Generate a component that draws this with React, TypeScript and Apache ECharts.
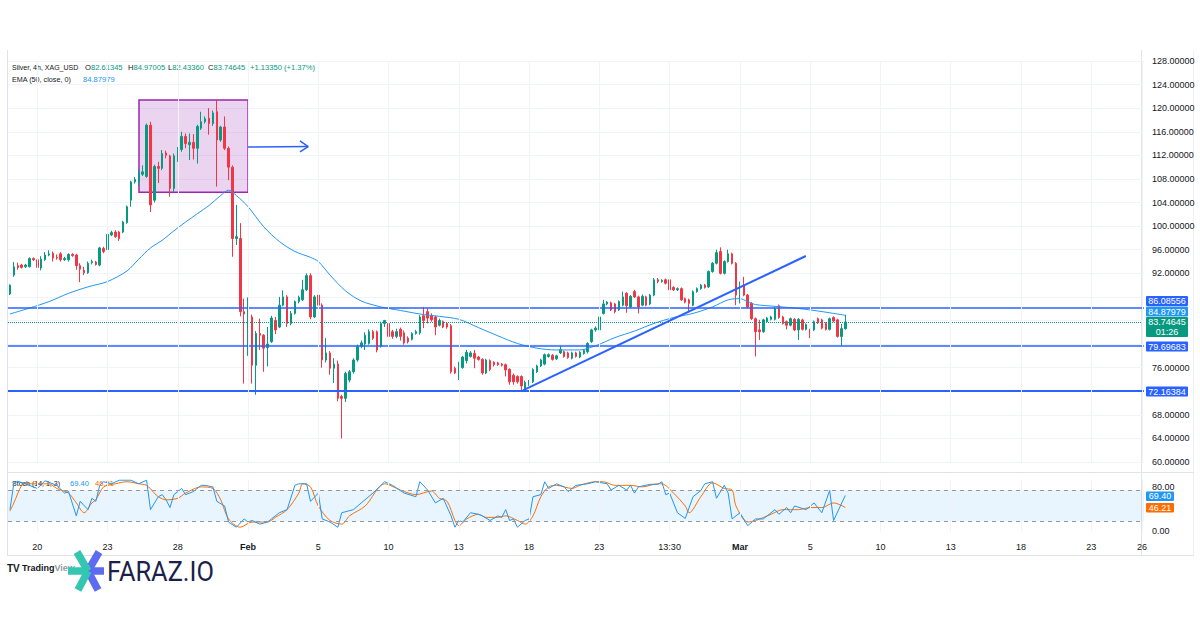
import { useEffect, useRef } from "react";
import * as echarts from "echarts";

// 4h bars, each row is [open, close, low, high]
const candles: number[][] = [
  [88.5, 90.0, 88.3, 90.1], [91.7, 93.1, 91.4, 93.9], [93.3, 93.0, 92.6, 93.8], [93.4, 93.0, 92.8, 93.6], [93.1, 93.4, 92.9, 93.6],
  [93.1, 94.5, 93.0, 94.7], [94.5, 94.3, 94.1, 94.7], [94.3, 93.0, 92.8, 94.4], [92.9, 94.4, 92.5, 94.9], [94.3, 95.1, 94.1, 95.6],
  [95.1, 95.3, 94.9, 95.9], [95.4, 94.6, 94.0, 95.7], [94.7, 94.6, 94.3, 95.2], [95.3, 94.3, 94.0, 95.6], [94.3, 94.5, 94.1, 94.8],
  [94.3, 95.2, 94.0, 95.4], [95.2, 95.0, 94.8, 95.4], [95.1, 93.3, 92.6, 95.3], [93.3, 92.7, 90.5, 93.7], [92.5, 92.1, 91.7, 93.1],
  [92.1, 93.7, 91.9, 94.0], [93.8, 94.0, 93.5, 94.3], [93.9, 93.5, 93.3, 94.1], [93.4, 96.3, 93.2, 96.5], [96.2, 95.7, 95.4, 96.5],
  [96.0, 98.6, 95.9, 98.8], [98.5, 98.9, 98.3, 99.2], [99.0, 98.2, 98.0, 99.3], [99.0, 97.9, 97.5, 99.2], [99.0, 100.7, 98.8, 100.9],
  [100.6, 103.3, 100.4, 103.5], [104.4, 107.5, 103.3, 107.7], [107.5, 107.9, 107.2, 108.3], [107.6, 109.0, 106.8, 109.6], [108.8, 109.2, 108.5, 110.3],
  [108.4, 117.1, 108.2, 117.4], [117.1, 103.6, 102.4, 117.7], [104.4, 110.1, 104.0, 110.4], [110.1, 109.8, 107.3, 110.9], [109.8, 112.3, 109.5, 112.9],
  [112.4, 112.0, 111.5, 112.8], [111.9, 106.4, 105.0, 112.1], [106.4, 111.9, 105.8, 112.3], [111.2, 113.0, 110.9, 113.4], [113.0, 115.2, 112.6, 116.0],
  [115.2, 114.0, 113.2, 115.7], [113.8, 114.2, 111.2, 115.7], [114.2, 113.2, 111.3, 115.6], [113.2, 116.9, 110.6, 117.2], [116.6, 117.7, 116.3, 119.4],
  [117.7, 118.2, 117.4, 118.6], [118.3, 117.4, 115.5, 120.0], [117.4, 119.2, 117.0, 119.6], [119.4, 114.6, 106.7, 121.4], [114.6, 116.8, 114.3, 117.0],
  [116.8, 113.2, 112.9, 118.6], [113.2, 110.0, 107.8, 113.5], [110.0, 97.9, 94.8, 110.3], [97.9, 98.2, 96.8, 103.6], [97.9, 85.5, 84.7, 100.5],
  [85.5, 85.1, 73.3, 87.7], [81.8, 84.6, 78.0, 87.9], [84.6, 76.4, 73.3, 85.0], [76.4, 81.8, 71.4, 82.2], [81.8, 81.5, 79.0, 84.3],
  [81.5, 79.3, 75.3, 81.7], [79.4, 80.0, 76.2, 82.9], [80.4, 84.4, 80.2, 84.8], [84.0, 82.4, 81.7, 84.6], [82.9, 86.6, 82.7, 88.0],
  [86.6, 88.0, 86.4, 89.1], [88.0, 83.5, 82.9, 88.3], [83.5, 85.2, 83.2, 85.6], [85.2, 87.2, 85.0, 87.4], [87.2, 87.9, 86.9, 88.2],
  [87.5, 89.2, 87.3, 90.9], [89.2, 91.6, 89.0, 92.0], [91.6, 84.6, 84.2, 92.0], [84.6, 88.0, 84.4, 88.3], [88.3, 86.6, 83.5, 90.3],
  [86.6, 77.3, 76.0, 86.9], [77.3, 78.5, 76.9, 81.0], [78.5, 75.9, 74.8, 78.8], [75.9, 76.6, 73.4, 77.6], [76.6, 70.8, 70.3, 77.2],
  [71.1, 70.8, 64.0, 71.4], [70.8, 75.0, 70.2, 75.3], [73.9, 75.3, 73.5, 75.6], [75.3, 77.3, 75.0, 77.6], [77.3, 79.6, 77.0, 79.9],
  [79.6, 80.2, 79.3, 80.6], [80.0, 81.5, 79.0, 82.0], [80.1, 82.1, 79.9, 82.5], [82.1, 81.0, 80.7, 82.4], [82.1, 79.0, 78.6, 82.3],
  [79.6, 83.5, 79.4, 83.8], [83.5, 84.0, 82.9, 84.1], [83.5, 81.3, 80.9, 83.9], [82.1, 81.3, 80.9, 82.4], [81.3, 82.1, 81.0, 82.6],
  [82.5, 81.3, 80.6, 82.8], [81.9, 80.2, 79.9, 82.3], [81.0, 80.4, 80.1, 81.3], [80.8, 81.8, 80.6, 82.0], [81.8, 82.1, 81.6, 82.4],
  [81.9, 84.6, 81.6, 84.9], [84.8, 84.0, 82.7, 86.3], [85.5, 84.4, 83.5, 86.0], [84.8, 84.1, 83.8, 85.2], [84.6, 82.9, 81.5, 84.8],
  [83.2, 84.0, 83.0, 84.3], [83.8, 82.9, 82.7, 84.0], [83.5, 82.9, 82.6, 83.7], [83.1, 75.3, 75.0, 83.4], [75.9, 75.1, 74.9, 76.2],
  [74.2, 76.8, 73.9, 77.0], [76.0, 77.8, 75.8, 78.0], [77.2, 78.6, 76.7, 79.0], [77.9, 78.5, 77.7, 78.8], [78.4, 77.6, 75.9, 79.0],
  [77.8, 77.4, 77.2, 78.0], [77.4, 75.1, 74.8, 77.6], [75.1, 77.3, 74.9, 77.5], [77.2, 75.7, 75.4, 77.4], [76.9, 76.5, 76.2, 77.1],
  [76.8, 76.5, 76.3, 77.0], [76.6, 76.4, 76.2, 76.8], [76.5, 75.6, 74.5, 76.7], [75.7, 73.6, 73.1, 75.9], [74.7, 73.6, 73.1, 75.0],
  [74.5, 73.6, 73.3, 74.7], [74.5, 72.9, 72.2, 74.7], [72.5, 73.5, 72.3, 73.8], [73.1, 73.7, 72.9, 73.9], [73.6, 75.7, 73.4, 75.9],
  [75.3, 76.3, 75.1, 76.5], [76.3, 77.3, 76.1, 77.5], [76.6, 78.2, 76.4, 78.4], [77.9, 78.2, 77.7, 78.4], [78.1, 77.4, 77.2, 78.3],
  [77.5, 78.0, 77.3, 78.2], [78.5, 79.1, 78.3, 79.7], [78.7, 77.9, 77.7, 78.9], [78.5, 77.7, 77.5, 78.7], [77.6, 78.5, 77.4, 78.7],
  [78.5, 77.9, 77.7, 78.7], [77.8, 78.6, 77.6, 78.8], [78.4, 78.9, 78.2, 79.1], [78.7, 80.1, 78.4, 80.3], [80.4, 82.4, 80.2, 82.6],
  [82.4, 82.7, 82.1, 83.0], [82.4, 84.6, 82.2, 84.8], [85.2, 86.8, 85.0, 87.5], [86.8, 87.1, 86.6, 87.3], [87.0, 85.8, 85.6, 87.2],
  [86.8, 85.5, 85.2, 87.0], [85.8, 87.2, 85.6, 87.4], [86.6, 88.0, 86.4, 88.9], [88.6, 86.5, 85.3, 88.8], [86.3, 88.1, 86.1, 88.3],
  [88.9, 88.0, 87.8, 89.2], [88.0, 86.3, 85.2, 88.2], [86.6, 88.1, 86.4, 88.4], [88.0, 86.6, 86.4, 88.2], [86.8, 88.3, 86.6, 88.5],
  [88.3, 90.9, 88.1, 91.2], [90.9, 90.6, 90.3, 91.2], [90.6, 90.8, 90.4, 91.0], [90.9, 90.3, 90.1, 91.1], [90.9, 89.2, 88.0, 91.1],
  [89.6, 89.2, 89.0, 89.8], [89.2, 89.4, 89.0, 89.6], [89.4, 87.5, 87.3, 89.6], [87.7, 87.1, 86.9, 87.9], [87.5, 86.9, 85.3, 87.7],
  [86.6, 88.9, 86.4, 89.1], [88.9, 89.4, 88.7, 89.6], [89.4, 90.0, 89.2, 90.2], [90.0, 89.6, 89.4, 90.2], [89.7, 92.3, 89.5, 92.5],
  [92.3, 93.7, 92.1, 93.9], [93.7, 95.5, 93.5, 96.0], [95.7, 92.0, 91.8, 96.4], [92.0, 94.0, 91.8, 94.2], [94.0, 95.3, 93.8, 96.0],
  [95.3, 93.7, 93.5, 95.5], [93.7, 88.3, 86.6, 93.9], [88.6, 89.7, 86.9, 90.6], [90.0, 88.3, 88.1, 91.4], [88.3, 86.3, 86.1, 88.5],
  [86.9, 84.3, 84.1, 87.1], [84.3, 82.1, 77.9, 84.5], [82.4, 82.1, 80.7, 84.1], [82.1, 84.1, 81.9, 84.3], [83.8, 84.4, 83.6, 84.6],
  [84.2, 84.6, 84.0, 84.8], [84.2, 86.0, 84.0, 86.3], [86.5, 84.5, 84.3, 86.7], [84.6, 83.5, 83.3, 84.8], [83.8, 83.2, 82.5, 84.0],
  [83.2, 84.3, 83.0, 84.5], [84.2, 82.4, 82.2, 84.4], [82.4, 84.2, 80.7, 84.4], [84.1, 82.5, 82.3, 84.3], [82.5, 83.3, 82.3, 83.5],
  [82.4, 81.4, 81.0, 82.6], [82.4, 83.8, 82.2, 84.0], [84.3, 83.6, 83.4, 84.5], [84.1, 82.7, 82.5, 84.3], [83.5, 82.5, 82.3, 83.7],
  [82.5, 84.3, 82.3, 84.5], [84.5, 83.9, 83.7, 84.7], [84.1, 81.3, 81.1, 84.3], [81.3, 82.61295, 79.7, 83.4], [82.61345, 83.74645, 82.4336, 84.97005],
];

// time axis: slot count (bars + empty space on the right) and tick labels
const slotCount = 291;
const timeTickIdx = [7, 25, 43, 61, 79, 97, 115, 133, 151, 169, 187, 205, 223, 241, 259, 277, 290];
const timeTickLabels = ["20", "23", "28", "Feb", "5", "10", "13", "18", "23", "13:30", "Mar", "5", "10", "13", "18", "23", "26"];
const boldTickLabels = ["Feb", "Mar"];

// price scale
const priceMin = 60;
const priceMax = 128;
const priceStep = 4;
const hiddenPriceTicks = [72, 80, 84, 88];

// horizontal levels
const levelPrices = [86.08556, 79.69683, 72.16384];

// EMA(50) samples: bar index and value
const emaIdx = [0, 5, 10, 15, 20, 25, 30, 33, 36, 39, 42, 45, 48, 51, 54, 56, 58, 61, 65, 69, 73, 77, 79, 82, 86, 90, 95, 100, 105, 110, 115, 120, 125, 130, 135, 140, 146, 150, 155, 160, 165, 170, 175, 180, 184, 187, 189, 191, 196, 201, 206, 211, 214];
const emaVal = [85.1, 86.1, 87.2, 88.6, 89.7, 90.6, 92.4, 94.4, 96.3, 97.6, 99.2, 100.7, 102.1, 103.5, 105.2, 106.1, 105.2, 103.3, 99.9, 97.4, 95.7, 94.7, 94.0, 91.7, 89.0, 87.3, 86.3, 85.7, 85.1, 84.7, 84.2, 82.8, 81.4, 80.1, 79.3, 79.0, 79.0, 79.7, 81.1, 82.2, 83.5, 84.5, 85.2, 86.3, 87.5, 87.7, 87.2, 86.7, 86.4, 86.1, 85.7, 85.2, 84.87979];

// Stochastic (14, 1, 3): %K and %D samples
const kIdx = [0, 1, 2, 4, 7, 9, 12, 14, 15, 17, 18, 20, 21, 22, 23, 24, 26, 28, 31, 33, 35, 36, 38, 39, 40, 41, 42, 43, 44, 45, 47, 49, 50, 52, 53, 55, 56, 58, 60, 61, 62, 64, 66, 67, 69, 71, 73, 74, 76, 77, 79, 80, 82, 84, 85, 88, 90, 93, 96, 98, 101, 104, 105, 107, 109, 111, 113, 114, 115, 116, 118, 120, 121, 123, 125, 126, 127, 128, 129, 130, 132, 133, 134, 136, 137, 138, 140, 142, 143, 145, 148, 150, 153, 154, 156, 158, 159, 160, 161, 164, 166, 167, 168, 169, 171, 173, 175, 177, 178, 180, 181, 183, 184, 185, 187, 189, 191, 193, 196, 197, 199, 200, 201, 204, 206, 208, 210, 211, 214];
const kVal = [42, 93, 97, 92, 83, 98, 89, 74, 77, 30, 58, 42, 64, 58, 89, 96, 92, 99, 99, 92, 99, 42, 67, 71, 61, 46, 71, 77, 83, 71, 77, 89, 89, 86, 58, 49, 18, 8, 24, 18, 21, 14, 18, 24, 36, 42, 89, 92, 92, 58, 74, 24, 18, 8, 36, 42, 55, 74, 96, 89, 74, 67, 96, 80, 55, 64, 30, 8, 21, 18, 36, 33, 30, 21, 30, 27, 42, 21, 24, 8, 21, 24, 67, 71, 96, 83, 92, 86, 77, 89, 92, 96, 92, 80, 89, 80, 89, 74, 86, 91, 91, 96, 71, 74, 36, 25, 67, 79, 92, 96, 64, 89, 74, 24, 36, 11, 24, 24, 42, 33, 46, 36, 49, 42, 55, 36, 79, 21, 69.4];
const dIdx = [0, 1, 3, 4, 10, 12, 15, 17, 19, 21, 22, 24, 27, 30, 33, 35, 37, 38, 40, 43, 45, 49, 52, 54, 56, 59, 62, 66, 68, 71, 74, 75, 77, 79, 82, 85, 87, 91, 96, 100, 104, 108, 110, 112, 114, 115, 117, 120, 122, 125, 127, 130, 132, 134, 136, 138, 140, 144, 146, 150, 152, 155, 159, 162, 166, 167, 170, 173, 174, 177, 180, 183, 185, 186, 189, 191, 195, 198, 202, 205, 208, 211, 214];
const dVal = [39, 55, 89, 92, 92, 83, 74, 55, 36, 55, 61, 86, 92, 96, 92, 89, 74, 67, 61, 64, 74, 86, 83, 61, 24, 8, 18, 18, 27, 42, 74, 92, 86, 49, 21, 14, 30, 49, 92, 80, 71, 78, 64, 58, 21, 11, 24, 33, 27, 27, 30, 21, 14, 30, 67, 86, 89, 83, 89, 96, 96, 89, 89, 86, 92, 92, 74, 49, 36, 67, 94, 83, 80, 49, 18, 21, 33, 42, 42, 46, 46, 55, 46.21];
const stochBand = [20, 80];

// drawings: trend line, highlighted zone, arrow
const trendIdx = [131.4, 203.9];
const trendPrice = [72.16, 94.93];
const zoneIdx = [33.06, 61.0];
const zonePrice = [105.73, 121.39];
const arrowIdx = [61.0, 76.4];
const arrowPrice = [113.42, 113.5];
const arrowHeadIdx = [74.3, 76.4, 74.3];
const arrowHeadPrice = [114.45, 113.5, 112.6];

const countdown = "01:26";

const FONT = '"Liberation Sans", Arial, sans-serif';
const TEXT = "#131722";
const UP = "#089981";
const DOWN = "#f23645";
const LINE_BLUE = "#2962ff";
const EMA_BLUE = "#2196f3";
const ORANGE = "#ff6d00";
const GRIDLINE = "#f0f3fa";
const BORDER = "#e0e3eb";

const GRID_LEFT = 8;
const SLOT_W = 3.9034;
const GRID_W = slotCount * SLOT_W;

const pairs = (xs: number[], ys: number[]) => xs.map((x, j) => [x, ys[j]]);

function text(x: number, y: number, s: string, fill: string, size = 8, extra: Record<string, unknown> = {}, scaleX = 1) {
  return {
    type: "text",
    x,
    y,
    scaleX,
    silent: true,
    style: { text: s, fill, font: `${size}px ${FONT}`, verticalAlign: "middle", textVerticalAlign: "middle", ...extra },
  };
}

function richPair(x: number, y: number, key: string, value: string) {
  return {
    type: "text",
    x,
    y,
    scaleX: 0.95,
    silent: true,
    style: {
      text: `{k|${key}}{v|${value}}`,
      verticalAlign: "middle",
      textVerticalAlign: "middle",
      rich: {
        k: { fill: TEXT, fontSize: 8, fontFamily: FONT },
        v: { fill: UP, fontSize: 8, fontFamily: FONT },
      },
    },
  };
}

function tag(x: number, y: number, w: number, h: number, fill: string, s: string) {
  return {
    type: "group",
    silent: true,
    children: [
      { type: "rect", shape: { x, y, width: w, height: h, r: 1 }, style: { fill } },
      {
        type: "text",
        x: x + w / 2,
        y: y + h / 2,
        style: {
          text: s,
          fill: "#ffffff",
          font: `9px ${FONT}`,
          align: "center",
          textAlign: "center",
          verticalAlign: "middle",
          textVerticalAlign: "middle",
          lineHeight: 10,
        },
      },
    ],
  };
}

function hline(x1: number, x2: number, y: number, stroke: string) {
  return { type: "line", silent: true, shape: { x1, y1: y, x2, y2: y }, style: { stroke, lineWidth: 1 } };
}
function vline(x: number, y1: number, y2: number, stroke: string) {
  return { type: "line", silent: true, shape: { x1: x, y1, x2: x, y2 }, style: { stroke, lineWidth: 1 } };
}
function arm(x2: number, y2: number, stroke: string) {
  return { type: "line", silent: true, shape: { x1: 88, y1: 571, x2, y2 }, style: { stroke, lineWidth: 7.5 } };
}

export default function App() {
  const ref = useRef<HTMLDivElement>(null);

  useEffect(() => {
    if (!ref.current) return;
    const chart = echarts.init(ref.current, null, { renderer: "svg" });

    const categories = Array.from({ length: slotCount }, (_, i) => {
      const j = timeTickIdx.indexOf(i);
      return j >= 0 ? timeTickLabels[j] : "";
    });

    const last = candles[candles.length - 1];
    const prevClose = candles[candles.length - 2][1];
    const change = last[1] - prevClose;
    const changePct = (change / prevClose) * 100;
    const emaLast = emaVal[emaVal.length - 1];
    const kLast = kVal[kVal.length - 1];
    const dLast = dVal[dVal.length - 1];

    const mainVGrid = timeTickIdx.map((i) => ({ xAxis: i }));
    const noMarker = { symbol: ["none", "none"], silent: true, label: { show: false }, emphasis: { disabled: true } };

    const option = {
      animation: false,
      backgroundColor: "#ffffff",
      textStyle: { fontFamily: FONT },
      grid: [
        { left: GRID_LEFT, top: 61, width: GRID_W, height: 401 },
        { left: GRID_LEFT, top: 479.67, width: GRID_W, height: 51.67 },
      ],
      xAxis: [
        {
          type: "category",
          gridIndex: 0,
          data: categories,
          boundaryGap: true,
          axisLine: { show: false },
          axisTick: { show: false },
          axisLabel: { show: false },
          splitLine: { show: false },
        },
        { type: "value", gridIndex: 0, min: -0.5, max: slotCount - 0.5, show: false },
        {
          type: "category",
          gridIndex: 1,
          data: categories,
          boundaryGap: true,
          axisLine: { show: false },
          axisTick: { show: false },
          splitLine: { show: false },
          axisLabel: {
            interval: (idx: number) => timeTickIdx.includes(idx),
            formatter: (v: string) => (boldTickLabels.includes(v) ? `{b|${v}}` : v),
            color: TEXT,
            fontSize: 9,
            fontFamily: FONT,
            margin: 11,
            rich: { b: { fontWeight: "bold", fontSize: 9, color: TEXT, fontFamily: FONT } },
          },
        },
        { type: "value", gridIndex: 1, min: -0.5, max: slotCount - 0.5, show: false },
      ],
      yAxis: [
        {
          type: "value",
          gridIndex: 0,
          position: "right",
          min: priceMin,
          max: priceMax,
          interval: priceStep,
          axisLine: { show: false },
          axisTick: { show: false },
          splitLine: { show: true, lineStyle: { color: GRIDLINE, width: 1 } },
          axisLabel: {
            margin: 8,
            color: TEXT,
            fontSize: 9,
            fontFamily: FONT,
            formatter: (v: number) => (hiddenPriceTicks.includes(v) ? "" : v.toFixed(5)),
          },
        },
        {
          type: "value",
          gridIndex: 1,
          position: "right",
          min: 0,
          max: 100,
          interval: 20,
          axisLine: { show: false },
          axisTick: { show: false },
          splitLine: { show: false },
          axisLabel: {
            margin: 8,
            color: TEXT,
            fontSize: 9,
            fontFamily: FONT,
            formatter: (v: number) => (v === 80 ? `{hi|${v.toFixed(2)}}` : v === 0 ? v.toFixed(2) : ""),
            rich: { hi: { fontSize: 9, color: TEXT, fontFamily: FONT, padding: [0, 0, 7, 0] } },
          },
        },
      ],
      series: [
        {
          // highlighted zone behind the bars
          type: "line",
          xAxisIndex: 1,
          yAxisIndex: 0,
          z: 1,
          data: [[zoneIdx[0], zonePrice[0]]],
          showSymbol: false,
          lineStyle: { opacity: 0 },
          silent: true,
          markArea: {
            silent: true,
            itemStyle: { color: "rgba(156,39,176,0.2)", borderColor: "#9c27b0", borderWidth: 1.5 },
            data: [[{ coord: [zoneIdx[0], zonePrice[1]] }, { coord: [zoneIdx[1], zonePrice[0]] }]],
          },
        },
        {
          type: "candlestick",
          xAxisIndex: 0,
          yAxisIndex: 0,
          z: 3,
          barWidth: 2,
          data: candles,
          itemStyle: { color: UP, color0: DOWN, borderColor: UP, borderColor0: DOWN, borderWidth: 1 },
          markLine: {
            ...noMarker,
            data: [
              ...levelPrices.map((p, j) => ({ yAxis: p, lineStyle: { color: LINE_BLUE, width: j === 2 ? 2.2 : 1.6, type: "solid" } })),
              { yAxis: last[1], lineStyle: { color: UP, width: 1, type: "dotted" } },
            ],
          },
        },
        {
          type: "line",
          name: "EMA",
          xAxisIndex: 1,
          yAxisIndex: 0,
          z: 4,
          data: pairs(emaIdx, emaVal),
          smooth: 0.3,
          showSymbol: false,
          silent: true,
          lineStyle: { color: EMA_BLUE, width: 1 },
          markLine: { ...noMarker, data: mainVGrid, lineStyle: { color: GRIDLINE, width: 1, type: "solid" } },
        },
        {
          type: "line",
          xAxisIndex: 1,
          yAxisIndex: 0,
          z: 5,
          data: pairs(trendIdx, trendPrice),
          showSymbol: false,
          silent: true,
          lineStyle: { color: LINE_BLUE, width: 2 },
        },
        {
          type: "line",
          xAxisIndex: 1,
          yAxisIndex: 0,
          z: 5,
          data: pairs(arrowIdx, arrowPrice),
          showSymbol: false,
          silent: true,
          lineStyle: { color: LINE_BLUE, width: 1.5 },
        },
        {
          type: "line",
          xAxisIndex: 1,
          yAxisIndex: 0,
          z: 5,
          data: pairs(arrowHeadIdx, arrowHeadPrice),
          showSymbol: false,
          silent: true,
          lineStyle: { color: LINE_BLUE, width: 1.5 },
        },
        {
          type: "line",
          name: "%D",
          xAxisIndex: 3,
          yAxisIndex: 1,
          z: 3,
          data: pairs(dIdx, dVal),
          smooth: 0.3,
          showSymbol: false,
          silent: true,
          lineStyle: { color: ORANGE, width: 1 },
          markArea: {
            silent: true,
            itemStyle: { color: "rgba(33,150,243,0.1)" },
            data: [[{ yAxis: stochBand[1] }, { yAxis: stochBand[0] }]],
          },
        },
        {
          type: "line",
          name: "%K",
          xAxisIndex: 3,
          yAxisIndex: 1,
          z: 4,
          data: pairs(kIdx, kVal),
          showSymbol: false,
          silent: true,
          lineStyle: { color: EMA_BLUE, width: 1 },
          markLine: {
            ...noMarker,
            data: [
              ...timeTickIdx.map((i) => ({ xAxis: i, lineStyle: { color: GRIDLINE, width: 1, type: "solid" } })),
              ...stochBand.map((v) => ({ yAxis: v, lineStyle: { color: "#9598a1", width: 1, type: [4, 4] } })),
            ],
          },
        },
      ],
      graphic: {
        elements: [
          // pane borders
          vline(7.5, 50, 555, BORDER),
          vline(1141.5, 50, 555, BORDER),
          vline(1193.5, 50, 555, "#eef0f3"),
          hline(7, 1194, 472.5, BORDER),
          hline(7, 1194, 555.5, BORDER),

          // legend rows
          text(12, 67, "Silver, 4h, XAG_USD", TEXT, 8, {}, 0.88),
          richPair(85, 67, "O", last[0].toFixed(5)),
          richPair(128, 67, "H", last[3].toFixed(5)),
          richPair(168, 67, "L", last[2].toFixed(5)),
          richPair(208, 67, "C", last[1].toFixed(5)),
          text(250, 67, `${change >= 0 ? "+" : ""}${change.toFixed(5)} (${changePct >= 0 ? "+" : ""}${changePct.toFixed(2)}%)`, UP, 8, {}, 0.95),
          text(12, 79, "EMA (50, close, 0)", TEXT, 8, {}, 0.9),
          text(83, 79, emaLast.toFixed(5), EMA_BLUE, 8, {}, 0.95),
          text(12, 483, "Stoch (14, 1, 3)", TEXT, 8, {}, 0.88),
          text(70, 483, kLast.toFixed(2), EMA_BLUE, 8, {}, 0.95),
          text(95, 483, dLast.toFixed(2), ORANGE, 8, {}, 0.95),

          // price scale tags
          tag(1146, 296, 42, 10, LINE_BLUE, levelPrices[0].toFixed(5)),
          tag(1146, 306.5, 42, 10, EMA_BLUE, emaLast.toFixed(5)),
          tag(1146, 317, 42, 20, UP, `${last[1].toFixed(5)}\n${countdown}`),
          tag(1146, 341.5, 42, 10, LINE_BLUE, levelPrices[1].toFixed(5)),
          tag(1146, 386.5, 42, 10, LINE_BLUE, levelPrices[2].toFixed(5)),
          tag(1146, 491.5, 28, 9.5, EMA_BLUE, kLast.toFixed(2)),
          tag(1146, 503, 28, 9.5, ORANGE, dLast.toFixed(2)),

          // TradingView mark
          text(7, 568, "TV", TEXT, 10, { font: `900 10px ${FONT}` }),
          {
            type: "text",
            x: 22,
            y: 568,
            silent: true,
            style: {
              text: "{a|Trading}{b|View}",
              verticalAlign: "middle",
              textVerticalAlign: "middle",
              rich: {
                a: { fill: TEXT, fontSize: 9, fontWeight: "bold", fontFamily: FONT },
                b: { fill: "#9598a1", fontSize: 9, fontWeight: "bold", fontFamily: FONT },
              },
            },
          },

          // FARAZ.IO logo
          arm(99, 552, "#5c6bf0"),
          arm(104, 571, "#5c6bf0"),
          arm(98, 590, "#5c6bf0"),
          arm(77, 552, "#33c6b1"),
          arm(68, 571, "#33c6b1"),
          arm(78, 590, "#33c6b1"),
          {
            type: "text",
            x: 107,
            y: 572,
            scaleX: 0.94,
            silent: true,
            style: {
              text: "FARAZ.IO",
              fill: "#1c1f4a",
              font: `400 27px Roboto, "Liberation Sans", sans-serif`,
              verticalAlign: "middle",
              textVerticalAlign: "middle",
            },
          },
        ],
      },
    };

    chart.setOption(option as any);
    return () => chart.dispose();
  }, []);

  return (
    <div
      ref={ref}
      style={{ position: "fixed", left: 0, top: 0, width: 1200, height: 630, background: "#ffffff" }}
    />
  );
}
